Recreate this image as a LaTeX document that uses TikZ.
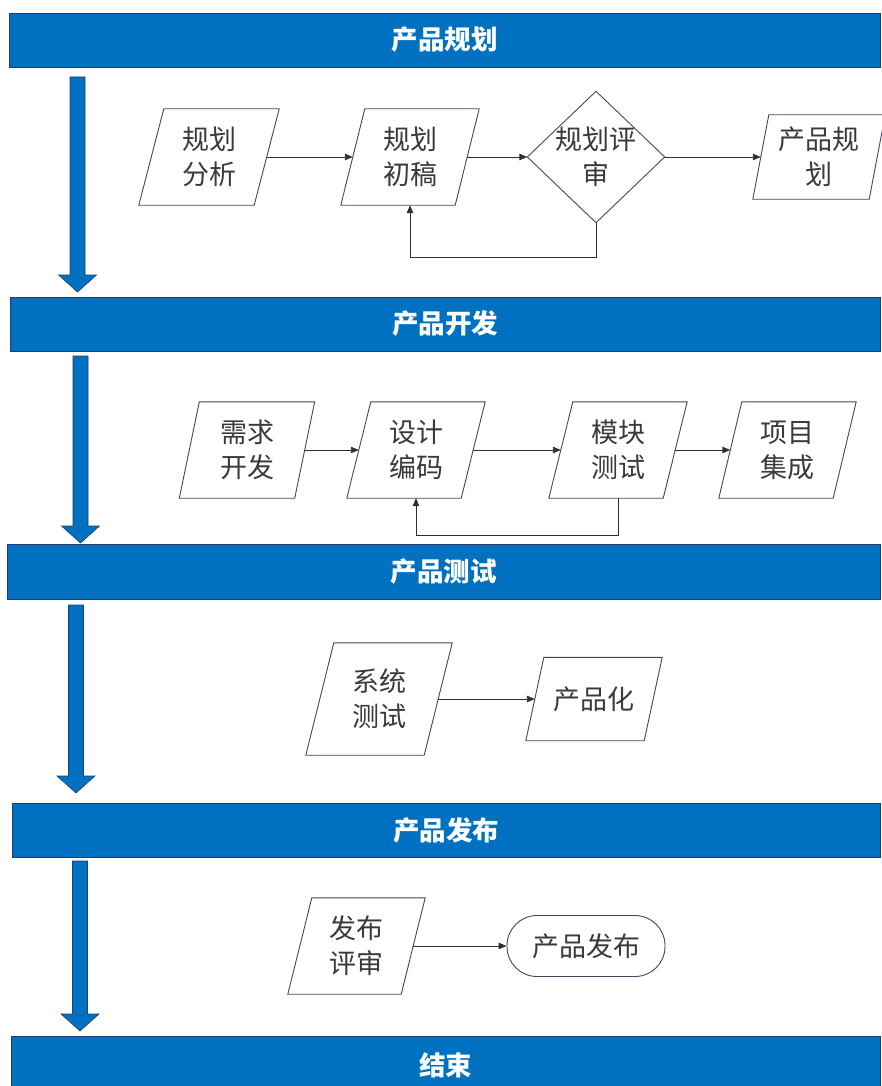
\documentclass[tikz,border=0pt]{standalone}
\usepackage{fontspec}
\newfontfamily\cjk{Noto Sans CJK SC}
\usetikzlibrary{arrows.meta,calc}
\definecolor{bandblue}{HTML}{0070C0}
\definecolor{bandedge}{HTML}{1F3F6F}
\definecolor{shapeedge}{HTML}{454560}
\definecolor{txt}{HTML}{3A3A3A}
\definecolor{conncol}{HTML}{303030}
\tikzset{
  band/.style={draw=bandedge, line width=0.8pt, fill=bandblue, text=white,
    font=\cjk\bfseries\fontsize{26.5}{30}\selectfont, inner sep=0pt},
  box/.style={inner sep=0pt, text=txt, font=\cjk\fontsize{27}{35}\selectfont, align=center},
  outline/.style={draw=shapeedge, line width=0.9pt},
  conn/.style={draw=conncol, line width=0.9pt, -{Triangle[length=8pt,width=6.5pt]}},
  bigarrow/.style={fill=bandblue, draw=bandedge, line width=0.6pt},
}
\newcommand\paraoutline[2]{\draw[outline] ([xshift=#2/2]#1.north west) -- ([xshift=#2/2]#1.north east) -- ([xshift=-#2/2]#1.south east) -- ([xshift=-#2/2]#1.south west) -- cycle;}
\newcommand\bigarr[2]{\draw[bigarrow] let \p1=(#1), \p2=(#2) in (\x1-7.5pt,\y1) -- (\x1+7.5pt,\y1) -- (\x1+7.5pt,\y2+17pt) -- (\x1+19pt,\y2+17pt) -- (\x2,\y2) -- (\x1-19pt,\y2+17pt) -- (\x1-7.5pt,\y2+17pt) -- cycle;}
\begin{document}
\begin{tikzpicture}[x=1pt,y=-1pt]
\useasboundingbox (0,0) rectangle (881,1086);
\fill[white] (0,0) rectangle (881,1086);

% bands
\node[band, minimum width=871, minimum height=54] (b1) at (444.5,40) {产品规划};
\node[band, minimum width=870, minimum height=54] (b2) at (445,324) {产品开发};
\node[band, minimum width=873, minimum height=55] (b3) at (443.5,571.5) {产品测试};
\node[band, minimum width=868, minimum height=54] (b4) at (446,830) {产品发布};
\node[band, minimum width=869, minimum height=58] (b5) at (445.5,1065) {结束};

% big arrows
\coordinate (a1s) at (77.5,77);  \coordinate (a1e) at (77.5,292);
\coordinate (a2s) at (80.5,356); \coordinate (a2e) at (80.5,543);
\coordinate (a3s) at (76,605);   \coordinate (a3e) at (76,793);
\coordinate (a4s) at (80,861);   \coordinate (a4e) at (80,1031);
\bigarr{a1s}{a1e}
\bigarr{a2s}{a2e}
\bigarr{a3s}{a3e}
\bigarr{a4s}{a4e}

% section 1
\node[box, minimum width=115, minimum height=96] (p1) at (209,157) {规划\\分析};
\paraoutline{p1}{25}
\node[box, minimum width=114, minimum height=96] (p2) at (410,157) {规划\\初稿};
\paraoutline{p2}{24}
\node[box, minimum width=137, minimum height=131] (d1) at (596,157) {规划评\\审};
\draw[outline] (d1.north) -- (d1.east) -- (d1.south) -- (d1.west) -- cycle;
\node[box, minimum width=116, minimum height=84] (p3) at (819,157) {产品规\\划};
\paraoutline{p3}{16}
\draw[conn] (p1.east) -- (p2.west);
\draw[conn] (p2.east) -- (d1.west);
\draw[conn] (d1.east) -- (p3.west);
\draw[conn] (d1.south) -- ++(0,35) -| (p2.south);

% section 2
\node[box, minimum width=115, minimum height=96] (q1) at (247,450) {需求\\开发};
\paraoutline{q1}{20}
\node[box, minimum width=114, minimum height=96] (q2) at (416,450) {设计\\编码};
\paraoutline{q2}{24}
\node[box, minimum width=114, minimum height=96] (q3) at (618,450) {模块\\测试};
\paraoutline{q3}{24}
\node[box, minimum width=114, minimum height=96] (q4) at (787.5,450) {项目\\集成};
\paraoutline{q4}{23}
\draw[conn] (q1.east) -- (q2.west);
\draw[conn] (q2.east) -- (q3.west);
\draw[conn] (q3.east) -- (q4.west);
\draw[conn] (q3.south) -- ++(0,37) -| (q2.south);

% section 3
\node[box, minimum width=118, minimum height=112] (s1) at (379,699) {系统\\测试};
\paraoutline{s1}{28}
\node[box, minimum width=118, minimum height=83] (s2) at (594,699) {产品化};
\paraoutline{s2}{18}
\draw[conn] (s1.east) -- (s2.west);

% section 4
\node[box, minimum width=113, minimum height=96] (t1) at (356.5,946) {发布\\评审};
\paraoutline{t1}{24}
\node[box, draw=shapeedge, line width=0.9pt, rounded corners=30pt, minimum width=158, minimum height=61] (t2) at (586,946) {产品发布};
\draw[conn] (t1.east) -- (t2.west);
\end{tikzpicture}
\end{document}
